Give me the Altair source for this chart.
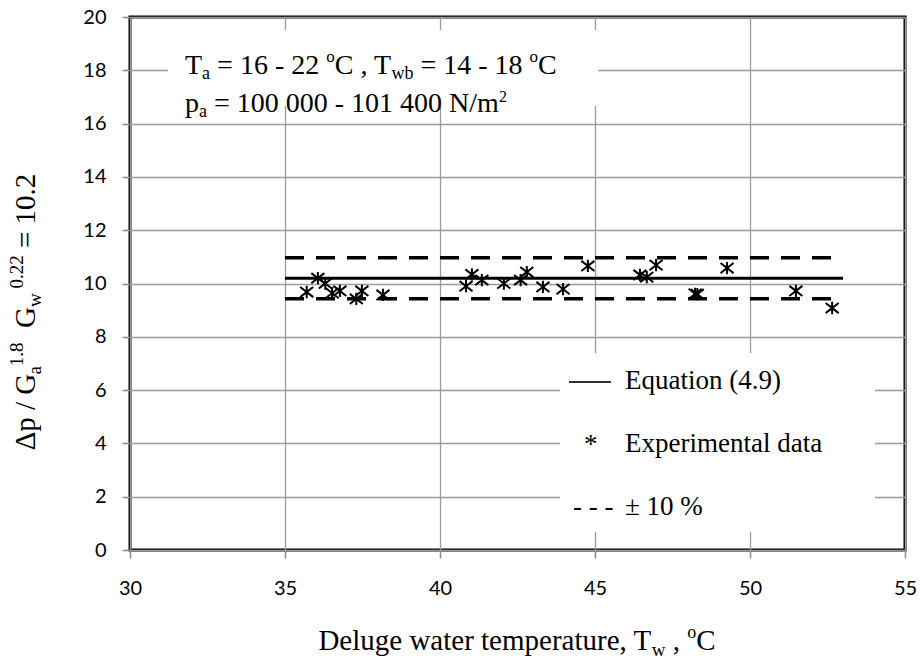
import altair as alt
import pandas as pd

# ---------------- data ----------------
tw_exp = [35.70, 36.06, 36.30, 36.52, 36.77, 37.30, 37.48, 38.16, 40.84, 41.03,
          41.35, 42.06, 42.60, 42.80, 43.32, 43.97, 44.77, 46.45, 46.67, 46.97,
          48.23, 48.30, 49.26, 51.48, 52.65]
dp_exp = [9.68, 10.20, 10.00, 9.64, 9.72, 9.42, 9.72, 9.57, 9.90, 10.34,
          10.13, 10.00, 10.13, 10.43, 9.87, 9.79, 10.66, 10.32, 10.24, 10.69,
          9.61, 9.60, 10.58, 9.72, 9.08]
eq_tw = [35, 53]
eq_val = [10.2, 10.2]
up_val = [10.97, 10.97]
lo_val = [9.43, 9.43]
x_ticks = [30, 35, 40, 45, 50, 55]
y_ticks = [0, 2, 4, 6, 8, 10, 12, 14, 16, 18, 20]

# ---------------- layout helpers ----------------
L, T = 130, 17          # plot origin in the page
PW, PH = 775, 533       # plot size
SERIF = "Liberation Serif"

W = {' ': 250, '%': 833, '(': 333, ')': 333, ',': 250, '-': 333, '.': 250, '/': 278,
     '=': 564, '±': 549, 'Δ': 612, '*': 500, 'A': 722, 'C': 667, 'D': 722, 'E': 611,
     'G': 722, 'N': 722, 'T': 611, 'a': 444, 'b': 500, 'c': 444, 'd': 500, 'e': 444,
     'g': 500, 'i': 278, 'l': 278, 'm': 778, 'n': 500, 'o': 500, 'p': 500, 'q': 500,
     'r': 333, 't': 278, 'u': 500, 'w': 722, 'x': 500}


def width(s, fs):
    return sum(W.get(c, 500) for c in s) * fs / 1000.0


def run(pieces, x0, y0, angle=0):
    rows = []
    pos = 0.0
    for text, fs, shift in pieces:
        lead = len(text) - len(text.lstrip(' '))
        p = pos + lead * 250 * fs / 1000.0
        if text.strip():
            if angle == 0:
                rows.append(dict(t=text.strip(), px=x0 + p - L, py=y0 + shift - T, fs=fs, ang=0))
            else:
                rows.append(dict(t=text.strip(), px=x0 + shift - L, py=y0 - p - T, fs=fs, ang=270))
        pos += width(text, fs)
    return rows, pos


rows = []
# top-left annotation
r, _ = run([("T", 28, 0), ("a", 18, 5), (" = 16 - 22 ", 28, 0), ("o", 17, -12),
            ("C , T", 28, 0), ("wb", 18, 5), (" = 14 - 18 ", 28, 0), ("o", 17, -12), ("C", 28, 0)],
           185, 74)
rows += r
r, _ = run([("p", 28, 0), ("a", 18, 5), (" = 100 000 - 101 400 N/m", 28, 0), ("2", 16, -10)],
           185, 112)
rows += r
# legend texts
for lbl, base in [("Equation (4.9)", 389), ("Experimental data", 452), ("± 10 %", 515)]:
    r, _ = run([(lbl, 27, 0)], 625, base)
    rows += r
r, _ = run([("*", 27, 0)], 584, 453)
rows += r
r, _ = run([("- - -", 27, 0)], 573, 515)
rows += r
# x-axis title
xt_pieces = [("Deluge water temperature, T", 29, 0), ("w", 19, 6), (" , ", 29, 0), ("o", 18, -12), ("C", 29, 0)]
_, tot = run(xt_pieces, 0, 0)
r, _ = run(xt_pieces, 517 - tot / 2, 650)
rows += r
# y-axis title (rotated)
yt_pieces = [("Δp / G", 29, 0), ("a", 19, 6), ("1.8", 19, -12), ("  G", 29, 0), ("w", 19, 6),
             (" 0.22", 19, -12), (" = 10.2", 29, 0)]
_, tot = run(yt_pieces, 0, 0)
r, _ = run(yt_pieces, 35, 312 + tot / 2, angle=270)
rows += r
texts = pd.DataFrame(rows)

pts = pd.DataFrame({"tw": tw_exp, "dp": dp_exp})
eq = pd.DataFrame({"tw": eq_tw, "v": eq_val})
up = pd.DataFrame({"tw": eq_tw, "v": up_val})
lo = pd.DataFrame({"tw": eq_tw, "v": lo_val})

xs = alt.Scale(domain=[30, 55], nice=False, zero=False)
ys = alt.Scale(domain=[0, 20], nice=False, zero=True)
ax_common = dict(title="", grid=True, gridColor="#9a9a9a", gridWidth=1.3, domain=False,
                 tickColor="#8a8a8a", tickWidth=1.5, tickSize=8, labelFont="Lato",
                 labelFontSize=20, labelColor="black", labelFlush=False)
xaxis = alt.Axis(values=x_ticks, labelPadding=20, **ax_common)
yaxis = alt.Axis(values=y_ticks, labelPadding=16, **ax_common)

STAR = "M0,-0.85L0,0.85M-0.9,-0.7L0.9,0.7M-0.9,0.7L0.9,-0.7"

points = alt.Chart(pts).mark_point(shape=STAR, size=210, filled=False, color="black",
                                   strokeWidth=2, opacity=1).encode(
    x=alt.X("tw:Q", scale=xs, axis=xaxis),
    y=alt.Y("dp:Q", scale=ys, axis=yaxis),
)
eq_line = alt.Chart(eq).mark_line(color="black", strokeWidth=3).encode(
    x=alt.X("tw:Q", scale=xs), y=alt.Y("v:Q", scale=ys))
up_line = alt.Chart(up).mark_line(color="black", strokeWidth=3.5, strokeDash=[19, 12]).encode(
    x=alt.X("tw:Q", scale=xs), y=alt.Y("v:Q", scale=ys))
lo_line = alt.Chart(lo).mark_line(color="black", strokeWidth=3.5, strokeDash=[19, 12]).encode(
    x=alt.X("tw:Q", scale=xs), y=alt.Y("v:Q", scale=ys))

box1 = alt.Chart(pts).mark_rect(color="white", opacity=1).encode(
    x=alt.value(168 - L), x2=alt.value(598 - L), y=alt.value(30 - T), y2=alt.value(106 - T))
box2 = alt.Chart(pts).mark_rect(color="white", opacity=1).encode(
    x=alt.value(560 - L), x2=alt.value(875 - L), y=alt.value(353 - T), y2=alt.value(532 - T))
leg_rule = alt.Chart(pts).mark_rule(color="#333333", strokeWidth=1.3).encode(
    x=alt.value(569 - L), x2=alt.value(611 - L), y=alt.value(382 - T))

txt = alt.Chart(texts).mark_text(font=SERIF, align="left", baseline="alphabetic",
                                 color="black").encode(
    x=alt.X("px:Q", scale=None),
    y=alt.Y("py:Q", scale=None),
    text="t:N",
    size=alt.Size("fs:Q", scale=None),
    angle=alt.Angle("ang:Q", scale=None),
)

chart = alt.layer(points, box1, box2, eq_line, up_line, lo_line, leg_rule, txt).properties(
    width=PW, height=PH,
    autosize=alt.AutoSizeParams(type="none"),
    padding={"left": L, "top": T, "right": 920 - L - PW, "bottom": 660 - T - PH},
    background="white",
).configure_view(stroke="black", strokeWidth=3)

chart.save("out.html", embed_options={"renderer": "svg", "actions": False})
